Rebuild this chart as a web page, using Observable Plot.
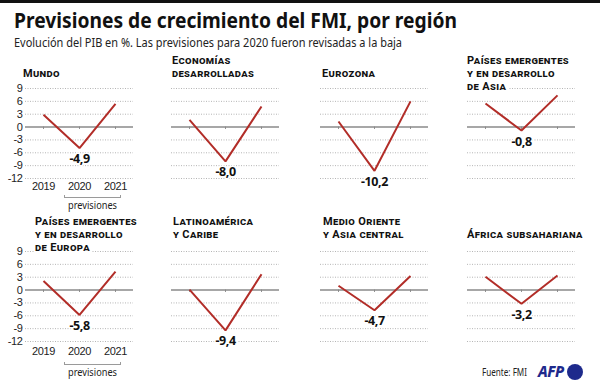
<!DOCTYPE html>
<html>
<head>
<meta charset="utf-8">
<script src="https://cdn.jsdelivr.net/npm/d3@7"></script>
<script src="https://cdn.jsdelivr.net/npm/@observablehq/plot@0.6"></script>
<style>
  html, body { margin: 0; padding: 0; background: #fff; }
  #root { position: relative; width: 600px; height: 388px; overflow: hidden; background: #fff; font-family: "Noto Sans", sans-serif; color: #111; }
  .topbar { position: absolute; left: 0; top: 0; width: 600px; height: 3px; background: #111; }
  .title { position: absolute; left: 14px; top: 8px; font-size: 21px; line-height: 24px; font-weight: 700; white-space: nowrap; transform-origin: 0 0; }
  .subtitle { position: absolute; left: 14px; top: 35px; font-size: 12.5px; line-height: 15px; white-space: nowrap; color: #222; transform-origin: 0 0; }
  .ptitle { position: absolute; font-family: Roboto, "Noto Sans", sans-serif; font-size: 11px; line-height: 13px; font-weight: 700; font-variant: small-caps; white-space: nowrap; letter-spacing: 0.35px; color: #111; }
  .ptitle span { background: #fff; padding-right: 2px; }
  .panel { position: absolute; }
  .prev { position: absolute; height: 20px; }
  .prev .br { position: absolute; left: 0; right: 0; top: -2px; height: 2px; border: 1px solid #9a9a9a; border-top: none; }
  .prev .lbl { position: absolute; left: 4px; top: 1px; font-size: 11.5px; line-height: 14px; color: #222; white-space: nowrap; transform-origin: 0 0; }
  .source { position: absolute; left: 482px; top: 365px; font-size: 11.5px; line-height: 14px; color: #222; white-space: nowrap; transform-origin: 0 0; }
  .afp { position: absolute; left: 538px; top: 362px; font-size: 15px; line-height: 18px; font-weight: 800; font-style: italic; color: #1e2a8c; letter-spacing: -0.5px; }
  .afpdot { position: absolute; left: 567px; top: 364px; width: 16px; height: 16px; border-radius: 50%; background: #1e2a8c; }
</style>
</head>
<body>
<div id="root">
  <div class="topbar"></div>
  <div class="title" id="title">Previsiones de crecimiento del FMI, por región</div>
  <div class="subtitle" id="subtitle">Evolución del PIB en %. Las previsiones para 2020 fueron revisadas a la baja</div>
  <div class="source" id="source">Fuente: FMI</div>
  <div class="afp">AFP</div>
  <div class="afpdot"></div>
</div>
<script>
// ---- data ----
const years = ["2019", "2020", "2021"];
const regionTitles = [
  ["Mundo"],
  ["Economías", "desarrolladas"],
  ["Eurozona"],
  ["Países emergentes", "y en desarrollo", "de Asia"],
  ["Países emergentes", "y en desarrollo", "de Europa"],
  ["Latinoamérica", "y Caribe"],
  ["Medio Oriente", "y Asia central"],
  ["África subsahariana"]
];
const growth2019 = [2.9, 1.7, 1.3, 5.5, 2.1, 0.1, 1.0, 3.1];
const growth2020 = [-4.9, -8.0, -10.2, -0.8, -5.8, -9.4, -4.7, -3.2];
const growth2021 = [5.4, 4.8, 6.0, 7.4, 4.3, 3.7, 3.3, 3.4];
const yTicks = [9, 6, 3, 0, -3, -6, -9, -12];
const forecastLabel = "previsiones";

// ---- layout ----
const colX = [25, 171, 320, 467];      // left edge of each panel's grid
const rowY = [88, 251];                // y of the "9" gridline per row
const titleTop = [54, 215];
const titleLeftRow = [[23, 172, 322, 467], [35, 173, 323, 467]];
const xPad = [4, 6];
const root = document.getElementById("root");
const fmt = v => d3.format(".1f")(v).replace(".", ",").replace("−", "-");

function fitEl(el, w) {
  const cw = el.getBoundingClientRect().width;
  if (cw > 0) el.style.transform = `scaleX(${w / cw})`;
}

for (let i = 0; i < regionTitles.length; i++) {
  const row = Math.floor(i / 4), col = i % 4;
  const first = col === 0;
  const series = [growth2019[i], growth2020[i], growth2021[i]];
  const data = years.map((y, j) => ({year: y, value: series[j]}));
  const low = [data[1]];

  const chart = Plot.plot({
    width: 25 + 108 + 2,
    height: 8 + 90 + 24,
    marginLeft: 25, marginRight: 2, marginTop: 8, marginBottom: 24,
    style: {fontFamily: "'Liberation Sans', Arial, sans-serif", fontSize: "11px", letterSpacing: "-0.4px", color: "#222", background: "transparent", overflow: "visible"},
    x: {type: "point", domain: years, padding: 0.5, axis: first ? "bottom" : null, tickSize: 0, tickPadding: xPad[row], label: null},
    y: {domain: [-12, 9], ticks: yTicks, axis: first ? "left" : null, tickSize: 0, tickPadding: 3, label: null, tickFormat: d => String(d)},
    marks: [
      Plot.ruleY(yTicks.filter(d => d !== 0), {stroke: "#b5b5b5", strokeWidth: 1, strokeDasharray: "1,1.5"}),
      Plot.ruleY([0], {stroke: "#8a8a8a", strokeWidth: 1.5}),
      Plot.ruleX(years, {x: d => d, y1: 0, y2: -0.55, stroke: "#8a8a8a", strokeWidth: 1}),
      Plot.line(data, {x: "year", y: "value", stroke: "#b22d28", strokeWidth: 2, strokeLinejoin: "miter", strokeLinecap: "butt"}),
      Plot.text(low, {x: "year", y: "value", text: d => fmt(d.value), dy: 11, fontWeight: "bold", fontSize: 12.5, fontFamily: "'Noto Sans', sans-serif", fill: "#111", stroke: "#fff", strokeWidth: 3})
    ]
  });
  chart.classList.add("panel");
  chart.style.left = (colX[col] - 25) + "px";
  chart.style.top = (rowY[row] - 8) + "px";
  root.appendChild(chart);

  // panel title
  const t = document.createElement("div");
  t.className = "ptitle";
  const lines = regionTitles[i];
  t.style.left = titleLeftRow[row][col] + "px";
  t.style.top = (titleTop[row] + (lines.length === 1 ? 13 : 0)) + "px";
  t.innerHTML = lines.map(l => `<span>${l}</span>`).join("<br>");
  root.appendChild(t);

  // "previsiones" bracket under first column
  if (first) {
    const p = document.createElement("div");
    p.className = "prev";
    const top = row === 0 ? 197 : 364;
    p.style.left = "64px"; p.style.width = "57px"; p.style.top = top + "px";
    p.innerHTML = `<div class="br"></div><div class="lbl">${forecastLabel}</div>`;
    root.appendChild(p);
    fitEl(p.querySelector(".lbl"), 49);
  }
}

fitEl(document.getElementById("title"), 443);
fitEl(document.getElementById("subtitle"), 388);
fitEl(document.getElementById("source"), 45);
</script>
</body>
</html>
